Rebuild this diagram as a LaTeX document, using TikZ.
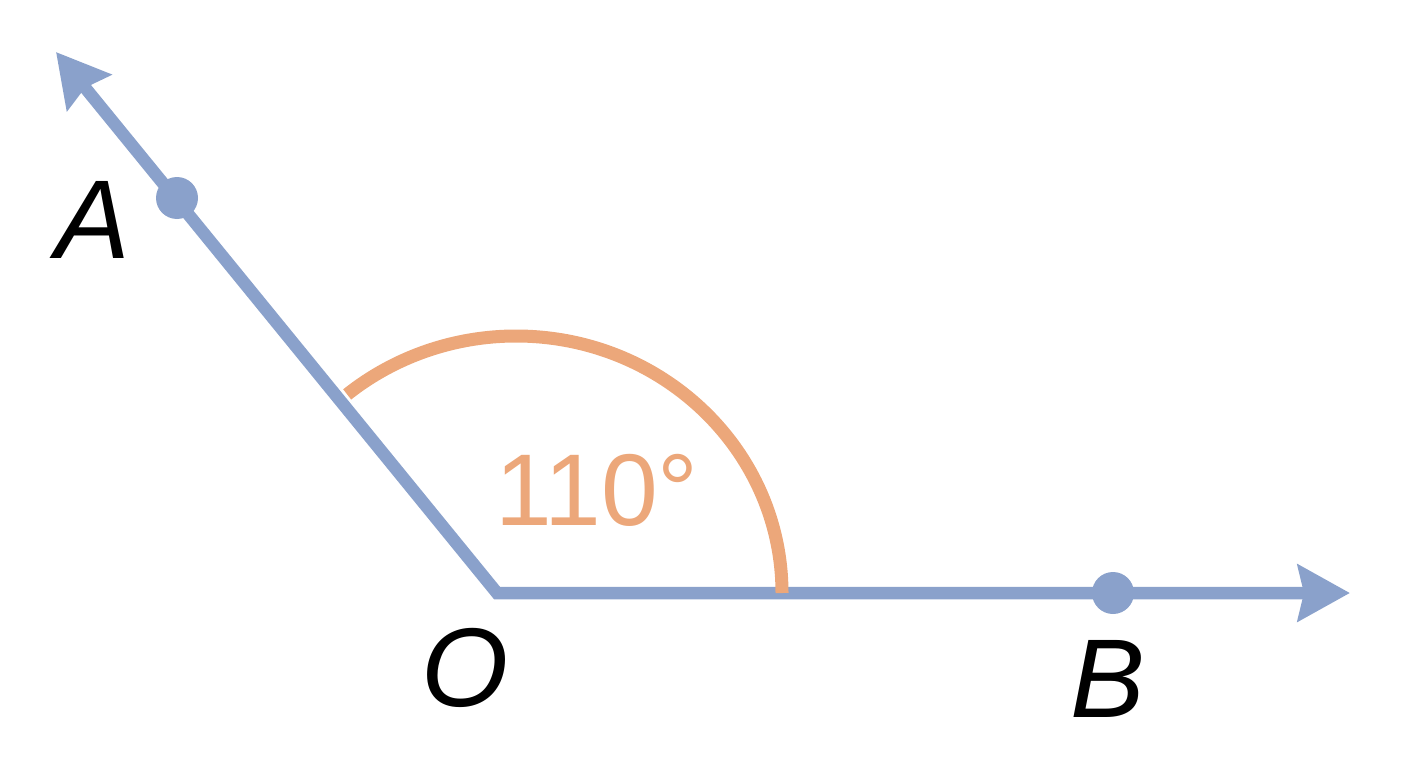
\documentclass[tikz,border=0pt]{standalone}
\usepackage{fontspec}
\setmainfont{Liberation Sans}
\usetikzlibrary{arrows.meta}

\definecolor{rayblue}{RGB}{138,161,203}
\definecolor{arcorange}{RGB}{236,167,122}

\begin{document}
\begin{tikzpicture}[x=1pt,y=-1pt,
    ray/.style={rayblue, line width=12.5pt, line join=miter,
      {Stealth[length=52pt, width=56pt, inset=6pt]}-{Stealth[length=52pt, width=56pt, inset=6pt]}},
    angarc/.style={arcorange, line width=13pt},
    ptdot/.style={fill=rayblue, circle, inner sep=0pt, minimum size=42pt},
    ptlabel/.style={inner sep=0pt, anchor=base, font=\fontsize{112}{112}\selectfont\itshape}]
    \useasboundingbox (0,0) rectangle (1408,768);
    \coordinate (O) at (497,593);
    \coordinate (tipA) at (56,52);
    \coordinate (tipB) at (1350,593);
    \coordinate (arcend) at (782,593);
    % the two rays
    \draw [ray] (tipA) -- (O) -- (tipB);
    % angle mark
    \draw [angarc] (arcend) arc [start angle=0, end angle=-129.4, x radius=266, y radius=257];
    \node [inner sep=0pt, anchor=base, arcorange, font=\fontsize{102}{102}\selectfont] (angle) at (597,525) {110°};
    % points and labels
    \node [ptdot] (A) at (177,198) {};
    \node [ptdot] (B) at (1113,593) {};
    \node [ptlabel] (labA) at (93,258) {A};
    \node [ptlabel] (labO) at (465,706) {O};
    \node [ptlabel] (labB) at (1108,717) {B};
\end{tikzpicture}
\end{document}
